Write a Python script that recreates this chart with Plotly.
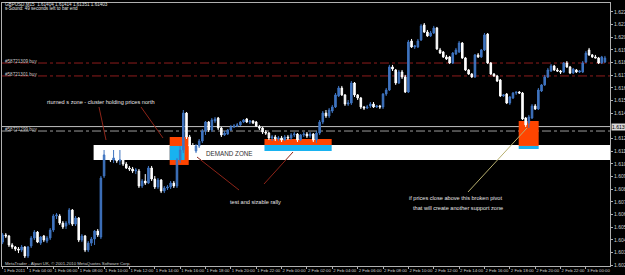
import plotly.graph_objects as go
import pandas as pd

# ---------------- data (GBPUSD M15) ----------------
opens = [
 1.60478,1.60534,1.60526,1.60455,1.60439,1.60423,1.60415,1.60439,1.60368,1.60447,
 1.60510,1.60557,1.60470,1.60526,1.60486,1.60510,1.60573,1.60684,1.60684,1.60628,
 1.60605,1.60628,1.60731,1.60620,1.60668,1.60494,1.60526,1.60415,1.60470,1.60502,
 1.60565,1.60518,1.61000,1.61166,1.61150,1.61126,1.61142,1.61118,1.61126,1.61094,
 1.61063,1.61055,1.61039,1.61039,1.60921,1.60960,1.60944,1.61063,1.60976,1.60913,
 1.60968,1.60881,1.60905,1.60913,1.60944,1.60921,1.61126,1.61205,1.61497,1.61308,
 1.61237,1.61197,1.61237,1.61276,1.61355,1.61426,1.61363,1.61434,1.61458,1.61379,
 1.61324,1.61331,1.61363,1.61387,1.61395,1.61403,1.61426,1.61450,1.61426,1.61434,
 1.61426,1.61387,1.61379,1.61347,1.61339,1.61300,1.61308,1.61292,1.61300,1.61284,
 1.61308,1.61300,1.61324,1.61331,1.61284,1.61324,1.61331,1.61316,1.61331,1.61284,
 1.61339,1.61426,1.61497,1.61474,1.61513,1.61545,1.61632,1.61695,1.61640,1.61568,
 1.61576,1.61734,1.61640,1.61616,1.61545,1.61537,1.61553,1.61568,1.61545,1.61553,
 1.61545,1.61647,1.61679,1.61861,1.61837,1.61734,1.61821,1.61782,1.61663,1.62066,
 1.62019,1.62019,1.62074,1.62193,1.62137,1.62106,1.62129,1.62169,1.61995,1.61979,
 1.61940,1.61940,1.61892,1.61963,1.61979,1.62050,1.61932,1.61837,1.61805,1.61782,
 1.61956,1.61940,1.61995,1.62121,1.61892,1.61805,1.61790,1.61758,1.61632,1.61647,
 1.61576,1.61616,1.61655,1.61663,1.61655,1.61458,1.61418,1.61458,1.61553,1.61529,
 1.61671,1.61719,1.61782,1.61829,1.61869,1.61837,1.61829,1.61821,1.61892,1.61861,
 1.61813,1.61837,1.61821,1.61821,1.61900,1.61995,1.61956,1.61940,1.61932,1.61892,
 1.61900]
highs = [
 1.60549,1.60549,1.60534,1.60470,1.60447,1.60439,1.60455,1.60447,1.60447,1.60526,
 1.60573,1.60565,1.60526,1.60534,1.60526,1.60589,1.60699,1.60707,1.60699,1.60644,
 1.60644,1.60747,1.60739,1.60684,1.60676,1.60541,1.60534,1.60486,1.60518,1.60573,
 1.60581,1.61000,1.61205,1.61237,1.61205,1.61205,1.61213,1.61205,1.61205,1.61110,
 1.61079,1.61071,1.61063,1.61055,1.60976,1.61015,1.61079,1.61079,1.61000,1.60984,
 1.60976,1.60921,1.60929,1.60960,1.60960,1.61142,1.61237,1.61521,1.61505,1.61324,
 1.61260,1.61252,1.61292,1.61371,1.61434,1.61434,1.61458,1.61466,1.61466,1.61387,
 1.61355,1.61371,1.61403,1.61410,1.61418,1.61434,1.61450,1.61458,1.61442,1.61442,
 1.61434,1.61403,1.61387,1.61363,1.61347,1.61324,1.61324,1.61316,1.61316,1.61324,
 1.61324,1.61339,1.61347,1.61339,1.61331,1.61347,1.61347,1.61347,1.61339,1.61355,
 1.61442,1.61513,1.61521,1.61537,1.61561,1.61655,1.61711,1.61711,1.61647,1.61600,
 1.61750,1.61742,1.61647,1.61624,1.61553,1.61561,1.61584,1.61584,1.61561,1.61561,
 1.61655,1.61695,1.61877,1.61877,1.61845,1.61837,1.61837,1.61798,1.62074,1.62082,
 1.62035,1.62082,1.62200,1.62208,1.62153,1.62145,1.62185,1.62177,1.62011,1.61987,
 1.61956,1.61948,1.61979,1.62011,1.62066,1.62058,1.61940,1.61845,1.61813,1.61963,
 1.61971,1.62003,1.62129,1.62129,1.61900,1.61813,1.61798,1.61766,1.61647,1.61655,
 1.61632,1.61663,1.61663,1.61671,1.61663,1.61466,1.61482,1.61568,1.61568,1.61695,
 1.61726,1.61798,1.61853,1.61884,1.61877,1.61853,1.61837,1.61900,1.61908,1.61869,
 1.61853,1.61845,1.61837,1.61908,1.61987,1.62011,1.61963,1.61956,1.61940,1.61948,
 1.61948]
lows = [
 1.60462,1.60510,1.60439,1.60423,1.60407,1.60391,1.60399,1.60352,1.60352,1.60431,
 1.60494,1.60470,1.60455,1.60478,1.60470,1.60494,1.60557,1.60660,1.60613,1.60581,
 1.60581,1.60613,1.60605,1.60605,1.60478,1.60478,1.60399,1.60399,1.60447,1.60455,
 1.60518,1.60502,1.60984,1.61134,1.61110,1.61102,1.61102,1.61087,1.61079,1.61055,
 1.61039,1.61023,1.61015,1.60905,1.60905,1.60929,1.60936,1.60960,1.60897,1.60897,
 1.60865,1.60865,1.60889,1.60897,1.60905,1.60905,1.61102,1.61181,1.61292,1.61221,
 1.61181,1.61181,1.61221,1.61260,1.61324,1.61347,1.61347,1.61418,1.61363,1.61308,
 1.61316,1.61324,1.61355,1.61379,1.61387,1.61395,1.61418,1.61418,1.61410,1.61410,
 1.61387,1.61363,1.61331,1.61324,1.61284,1.61276,1.61276,1.61276,1.61268,1.61276,
 1.61284,1.61284,1.61308,1.61268,1.61276,1.61308,1.61300,1.61300,1.61268,1.61260,
 1.61324,1.61410,1.61458,1.61458,1.61497,1.61537,1.61624,1.61632,1.61553,1.61553,
 1.61561,1.61624,1.61600,1.61529,1.61521,1.61529,1.61537,1.61537,1.61537,1.61529,
 1.61529,1.61632,1.61671,1.61829,1.61719,1.61726,1.61766,1.61655,1.61655,1.62011,
 1.62003,1.62011,1.62066,1.62129,1.62098,1.62098,1.62121,1.61995,1.61963,1.61932,
 1.61916,1.61884,1.61884,1.61956,1.61971,1.61924,1.61829,1.61798,1.61774,1.61774,
 1.61932,1.61932,1.61987,1.61884,1.61798,1.61782,1.61742,1.61624,1.61624,1.61568,
 1.61561,1.61608,1.61640,1.61647,1.61442,1.61387,1.61379,1.61450,1.61521,1.61521,
 1.61663,1.61711,1.61774,1.61821,1.61829,1.61821,1.61805,1.61813,1.61853,1.61805,
 1.61805,1.61813,1.61813,1.61813,1.61892,1.61948,1.61932,1.61932,1.61884,1.61884,
 1.61892]
closes = [
 1.60534,1.60526,1.60455,1.60439,1.60423,1.60415,1.60439,1.60368,1.60439,1.60510,
 1.60557,1.60478,1.60518,1.60494,1.60510,1.60573,1.60684,1.60692,1.60628,1.60597,
 1.60628,1.60731,1.60620,1.60668,1.60494,1.60526,1.60415,1.60470,1.60502,1.60565,
 1.60534,1.60984,1.61166,1.61150,1.61126,1.61142,1.61118,1.61126,1.61094,1.61063,
 1.61055,1.61039,1.61047,1.60921,1.60960,1.60944,1.61063,1.60976,1.60913,1.60968,
 1.60881,1.60905,1.60913,1.60944,1.60921,1.61126,1.61205,1.61497,1.61308,1.61237,
 1.61197,1.61237,1.61276,1.61355,1.61426,1.61363,1.61442,1.61450,1.61379,1.61324,
 1.61339,1.61363,1.61387,1.61395,1.61403,1.61426,1.61442,1.61426,1.61434,1.61418,
 1.61395,1.61379,1.61347,1.61339,1.61300,1.61308,1.61292,1.61300,1.61284,1.61308,
 1.61300,1.61324,1.61331,1.61284,1.61324,1.61331,1.61316,1.61331,1.61284,1.61339,
 1.61426,1.61497,1.61474,1.61521,1.61545,1.61640,1.61695,1.61640,1.61568,1.61576,
 1.61734,1.61640,1.61616,1.61545,1.61537,1.61545,1.61568,1.61545,1.61553,1.61545,
 1.61647,1.61679,1.61861,1.61845,1.61734,1.61821,1.61782,1.61663,1.62058,1.62019,
 1.62027,1.62066,1.62185,1.62137,1.62106,1.62129,1.62169,1.62003,1.61971,1.61940,
 1.61924,1.61892,1.61971,1.61995,1.62050,1.61932,1.61837,1.61805,1.61782,1.61956,
 1.61940,1.61995,1.62114,1.61892,1.61805,1.61790,1.61750,1.61632,1.61640,1.61576,
 1.61624,1.61655,1.61663,1.61655,1.61450,1.61403,1.61466,1.61553,1.61529,1.61679,
 1.61719,1.61782,1.61837,1.61869,1.61837,1.61829,1.61821,1.61892,1.61861,1.61813,
 1.61845,1.61821,1.61829,1.61892,1.61971,1.61956,1.61940,1.61932,1.61892,1.61940,
 1.61932]

price_ticks = [1.62295, 1.62195, 1.62095, 1.61995, 1.61895, 1.61795, 1.61695,
               1.61595, 1.61495, 1.61295, 1.61195, 1.61095, 1.60995, 1.60895,
               1.60795, 1.60695, 1.60595, 1.60495, 1.60395, 1.60295]
time_tick_bars = [0, 8, 16, 24, 32, 40, 48, 56, 64, 72, 80, 88, 96, 104, 112,
                  120, 128, 136, 144, 152, 160, 168, 176, 184]
time_tick_labels = ["1 Feb 2011", "1 Feb 04:00", "1 Feb 06:00", "1 Feb 08:00",
                    "1 Feb 10:00", "1 Feb 12:00", "1 Feb 14:00", "1 Feb 16:00",
                    "1 Feb 18:00", "1 Feb 20:00", "1 Feb 22:00", "2 Feb 00:00",
                    "2 Feb 02:00", "2 Feb 04:00", "2 Feb 06:00", "2 Feb 08:00",
                    "2 Feb 10:00", "2 Feb 12:00", "2 Feb 14:00", "2 Feb 16:00",
                    "2 Feb 18:00", "2 Feb 20:00", "2 Feb 22:00", "3 Feb 00:00"]
order_levels = [1.61892, 1.61790]
order_names = ["#58721309 buy", "#58721301 buy"]
pivot_level = 1.61390
open_buy_level = 1.61355

# ---------------- figure ----------------
start = pd.Timestamp("2011-02-01 02:00")
step = pd.Timedelta(minutes=15)
times = [start + i * step for i in range(len(closes))]
def t(i):
    return start + step * i

W, H = 625, 275
L, R, T, B = 2, 15, 3, 9
PW, PH = W - L - R, H - T - B
def px(x):
    return (x - L) / PW
def py(y):
    return 1 - (y - T) / PH

BLUE = "#3f74c0"
FONT = "Liberation Sans, Arial, sans-serif"

fig = go.Figure()
fig.add_trace(go.Candlestick(
    x=times, open=opens, high=highs, low=lows, close=closes,
    increasing=dict(line=dict(color=BLUE, width=1), fillcolor=BLUE),
    decreasing=dict(line=dict(color="#ffffff", width=1), fillcolor="#ffffff"),
    whiskerwidth=0, showlegend=False, hoverinfo="skip"))

shapes = []
# demand zone band
shapes.append(dict(type="rect", xref="x", yref="y", x0=t(28.7), x1=t(195),
                   y0=1.61126, y1=1.61245, fillcolor="#ffffff", line_width=0, layer="below"))
# orange / blue boxes
for (a, b, y0, y1, by0, by1, bx1) in [
        (52.7, 58.7, 1.61087, 1.61308, 1.61126, 1.61237, 57.4),
        (82.6, 103.8, 1.61245, 1.61292, 1.61197, 1.61245, 103.8),
        (162.8, 169.1, 1.61237, 1.61434, 1.61213, 1.61237, 169.1)]:
    shapes.append(dict(type="rect", xref="x", yref="y", x0=t(a), x1=t(b), y0=y0, y1=y1,
                       fillcolor="#ff4500", line_width=0, layer="below"))
    shapes.append(dict(type="rect", xref="x", yref="y", x0=t(a), x1=t(bx1), y0=by0, y1=by1,
                       fillcolor="#18b2f0", line_width=0, layer="below"))
# order lines
for lv in order_levels:
    shapes.append(dict(type="line", xref="paper", yref="y", x0=0, x1=1, y0=lv, y1=lv,
                       line=dict(color="#8e1c1c", width=1, dash="dashdot"), layer="below"))
shapes.append(dict(type="line", xref="paper", yref="y", x0=0, x1=1, y0=pivot_level, y1=pivot_level,
                   line=dict(color="#c0c0c0", width=1), layer="below"))
shapes.append(dict(type="line", xref="paper", yref="y", x0=0, x1=1, y0=open_buy_level, y1=open_buy_level,
                   line=dict(color="#9a9a9a", width=1, dash="dashdot"), layer="below"))
# annotation pointer lines
for (x0, y0, x1, y1, col) in [
        (99, 107, 106, 140, "#8e2418"), (141, 107, 163, 138, "#8e2418"),
        (197, 157, 239, 190, "#8e2418"), (293, 152, 264, 184, "#8e2418"),
        (468, 192, 527, 128, "#b8b070")]:
    shapes.append(dict(type="line", xref="paper", yref="paper",
                       x0=px(x0), y0=py(y0), x1=px(x1), y1=py(y1),
                       line=dict(color=col, width=1)))

ann = []
def text(x, y, s, size=5.5, color="#e6e6e6", anchor="center", bg=None):
    d = dict(xref="paper", yref="paper", x=px(x), y=py(y), text=s, showarrow=False,
             xanchor=anchor, yanchor="middle", font=dict(family=FONT, size=size, color=color))
    if bg:
        d["bgcolor"] = bg
    ann.append(d)

text(3, 4, "GBPUSD,M15  1.61404 1.61414 1.61351 1.61403", 4.6, "#e0e0e0", "left")
text(3, 9, "s-Sound: 49 seconds left to bar end", 4.6, "#e0e0e0", "left")
text(3, 61, order_names[0], 4.6, "#c8c8c8", "left")
text(3, 74, order_names[1], 4.6, "#c8c8c8", "left")
text(3, 129, "#58721299 buy", 4.6, "#c8c8c8", "left")
text(101, 102, "rturned s zone - cluster holding prices north", 5.6)
text(229, 153, "DEMAND ZONE", 6.3, "#303030")
text(255, 202, "test and sizable rally", 5.6)
text(455, 198, "if prices close above this broken pivot", 5.6)
text(458, 208, "that will create another support zone", 5.6)
text(3, 263, "MetaTrader - Alpari UK, © 2001-2010 MetaQuotes Software Corp.", 4.3, "#d0d0d0", "left")
ann.append(dict(xref="paper", yref="y", x=1, y=pivot_level, xanchor="left", yanchor="middle",
                xshift=1, text="1.61390", showarrow=False, bgcolor="#d8d8d8", borderpad=0,
                font=dict(family=FONT, size=5, color="#000000")))

fig.update_layout(
    width=W, height=H, margin=dict(l=L, r=R, t=T, b=B, autoexpand=False),
    paper_bgcolor="#000000", plot_bgcolor="#000000",
    shapes=shapes, annotations=ann, showlegend=False,
    xaxis=dict(range=[t(-0.2), t(191.6)], rangeslider=dict(visible=False),
               automargin=False, tickangle=0,
               showgrid=False, zeroline=False, showline=True, mirror=True,
               linecolor="#b0b0b0", linewidth=1,
               tickvals=[t(i) for i in time_tick_bars], ticktext=time_tick_labels,
               ticks="outside", ticklen=2, tickcolor="#b0b0b0",
               ticklabelposition="outside right",
               tickfont=dict(family=FONT, size=4.3, color="#d0d0d0")),
    yaxis=dict(range=[1.60289, 1.62366], side="right", showgrid=False, zeroline=False,
               automargin=False,
               showline=True, mirror=True, linecolor="#b0b0b0", linewidth=1,
               tickvals=price_ticks, ticktext=[f"{v:.5f}" for v in price_ticks],
               ticks="outside", ticklen=2, tickcolor="#b0b0b0",
               tickfont=dict(family=FONT, size=5, color="#d0d0d0")),
)

fig.write_html("out.html")
